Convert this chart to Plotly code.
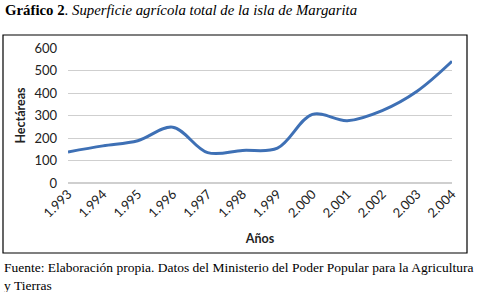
import plotly.graph_objects as go

years = ["1.993", "1.994", "1.995", "1.996", "1.997", "1.998", "1.999", "2.000", "2.001", "2.002", "2.003", "2.004"]
hectareas = [138, 165, 188, 248, 135, 145, 155, 305, 277, 322, 408, 541]
y_ticks = [0, 100, 200, 300, 400, 500, 600]

L, R, T, B = 68, 28, 48, 109
W, H = 480, 292
pw, ph = W - L - R, H - T - B

def px(x):
    return (x - L) / pw

def py(y):
    return (H - B - y) / ph

fig = go.Figure()
fig.add_trace(go.Scatter(
    x=years, y=hectareas, mode="lines",
    line=dict(color="#3E70B5", width=3, shape="spline", smoothing=1.0),
    showlegend=False, hoverinfo="skip"))

fig.update_layout(
    width=W, height=H, margin=dict(l=L, r=R, t=T, b=B, autoexpand=False),
    paper_bgcolor="white", plot_bgcolor="white",
    font=dict(family="Lato", color="#222222"),
    xaxis=dict(type="category", range=[0, 11], showgrid=False, showline=False,
               zeroline=False, tickangle=-45, ticks="", tickfont=dict(size=13),
               automargin=False,
               title=dict(text="<b>Años</b>", font=dict(size=12.5), standoff=14)),
    yaxis=dict(range=[0, 600], tickvals=y_ticks, showgrid=True, gridcolor="#cfcfcf",
               gridwidth=1, zeroline=True, zerolinecolor="#cfcfcf", showline=False,
               ticks="", tickfont=dict(size=13), ticklabelstandoff=10, automargin=False,
               title=dict(text="<b>Hectáreas</b>", font=dict(size=12.5), standoff=6)),
    shapes=[dict(type="rect", xref="paper", yref="paper",
                 x0=px(3), x1=px(467), y0=py(253), y1=py(35),
                 line=dict(color="black", width=1.2), fillcolor="rgba(0,0,0,0)", layer="below")],
    annotations=[
        dict(text="<b>Gráfico 2</b>. <i>Superficie agrícola total de la isla de Margarita</i>",
             xref="paper", yref="paper", x=px(3), y=py(10), xanchor="left", yanchor="middle",
             showarrow=False, font=dict(family="Liberation Serif", size=14.8, color="black")),
        dict(text="Fuente: Elaboración propia. Datos del Ministerio del Poder Popular para la Agricultura<br>y Tierras",
             xref="paper", yref="paper", x=px(2), y=py(276.5), xanchor="left", yanchor="middle",
             align="left", showarrow=False,
             font=dict(family="Liberation Serif", size=13.5, color="black")),
    ],
)

fig.write_html("out.html", config={"displayModeBar": False},
               post_script="document.body.style.margin='0';")
